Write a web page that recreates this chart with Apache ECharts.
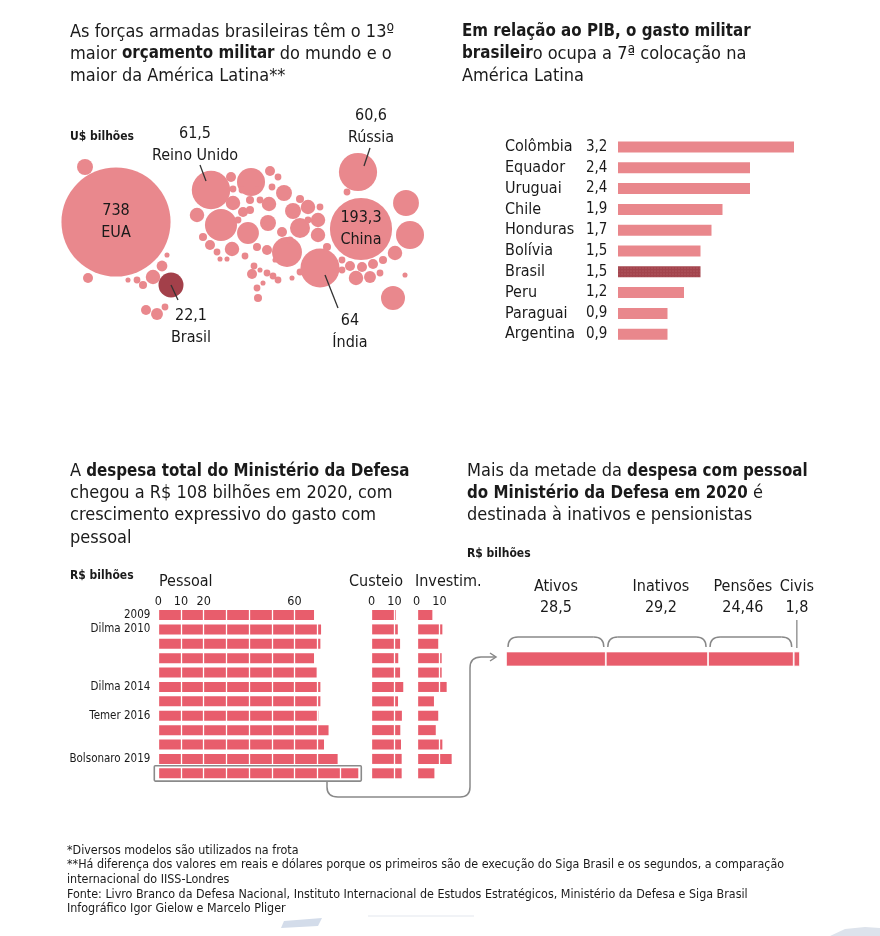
<!DOCTYPE html>
<html><head><meta charset="utf-8">
<script src="https://cdn.jsdelivr.net/npm/echarts@6/dist/echarts.min.js"></script>
<style>html,body{margin:0;padding:0;background:#fff}#c{width:880px;height:936px}</style>
</head><body><div id="c"></div>
<script>
const FONT = "'Liberation Sans Narrow','DejaVu Sans Condensed','Noto Sans',sans-serif";
const INK = '#1a1a1a';

// ---- Bubble chart: labelled countries (US$ billions), layout positions ----
const bubbleNames  = ['EUA', 'China', 'Índia', 'Reino Unido', 'Rússia', 'Brasil'];
const bubbleValues = [738, 193.3, 64, 61.5, 60.6, 22.1];
const bubbleX      = [56, 301, 260, 151, 298, 111];
const bubbleY      = [122, 129, 168, 90, 72, 185];
// other countries: [x, y, value]
const otherBubbles = [
  [25,67,7.6],[28,178,2.5],[102,166,3],[93,177,6],[83,185,1.5],[77,180,1],[107,155,0.5],
  [86,210,2.5],[97,214,3.8],[105,207,1],[68,180,0.5],
  [137,115,6],[161,125,40],[143,137,1.5],[150,145,2.5],[157,152,1],[172,149,6],[188,133,16],
  [191,82,29],[171,77,2.5],[173,89,1],[210,71,2.5],[218,77,1],[224,93,7.6],[173,103,6],
  [183,112,2.5],[190,100,1.5],[200,100,1],[209,104,6],[208,123,7.6],[233,111,7.6],[248,107,6],
  [240,99,1.5],[260,107,1],[258,120,6],[240,128,13],[258,135,6],[227,152,34],[207,150,2.5],
  [222,132,2.5],[197,147,1.5],[185,156,1],[194,166,1],[200,170,0.5],[192,174,2.5],[207,173,1],
  [213,176,1],[218,180,1],[203,183,0.5],[197,188,1],[198,198,1.5],[240,172,1],
  [267,147,1.5],[282,160,1],[290,166,2.5],[302,167,2.5],[313,164,2.5],[323,160,1.5],[282,170,1],
  [296,178,6],[310,177,3.8],[320,173,1],[335,153,6],[346,103,24],[350,135,29],[333,198,20],
  [287,92,1],[197,90,1],[182,90,1],[212,87,1],[190,110,1.5],[345,175,0.5],[160,159,0.5],
  [167,159,0.5],[178,120,1],[230,140,1],[248,120,1],[232,178,0.5],[215,160,0.5]
];
// label offsets for the labelled bubbles (text placement)
const bubbleLabelOffset = [[0,0],[0,0],[30,64],[-16,-45],[13,-45],[20,42]];

// ---- Military spending as % of GDP ----
const pibCountries = ['Colômbia','Equador','Uruguai','Chile','Honduras','Bolívia','Brasil','Peru','Paraguai','Argentina'];
const pibValues    = [3.2, 2.4, 2.4, 1.9, 1.7, 1.5, 1.5, 1.2, 0.9, 0.9];

// ---- Ministry of Defence spending (R$ billions) ----
const years      = ['2009','2010','2011','2012','2013','2014','2015','2016','2017','2018','2019','2020'];
const yearLabels = ['2009','Dilma 2010','','','','Dilma 2014','','Temer 2016','','','Bolsonaro 2019',''];
const pessoal    = [68.6, 71.7, 71.4, 68.6, 69.8, 71.4, 71.4, 70.5, 75.0, 73.0, 79.0, 88.1];
const custeio    = [10.6, 11.5, 12.5, 11.7, 12.5, 13.9, 11.6, 13.3, 12.6, 12.9, 13.2, 13.2];
const investim   = [6.9, 11.3, 9.5, 11.0, 11.0, 13.2, 7.6, 9.5, 8.4, 11.3, 15.4, 7.8];
const pessoalTicks  = [0, 10, 20, 60];
const custeioTicks  = [0, 10];
const investimTicks = [0, 10];

// ---- Personnel spending 2020 breakdown (R$ billions) ----
const partNames  = ['Ativos', 'Inativos', 'Pensões', 'Civis'];
const partValues = [28.5, 29.2, 24.46, 1.8];
const partLabelOffset = [[0,0],[4,0],[-8,0],[0,0]];

const fmt = v => String(v).replace('.', ',');
const BUB = '#e9888d', BAR_TOP = '#e9878c', BAR = '#e85d6c';
const brasilDecal = {symbol:'circle', symbolSize:0.5, color:'rgba(255,210,210,0.35)', dashArrayX:[[2,1]], dashArrayY:[2,1]};

const chart = echarts.init(document.getElementById('c'), null, {renderer:'canvas'});

function T(x, y, text, o) {
  o = o || {};
  return {type:'text', x:x, y:y, silent:true, style: Object.assign({
    text:text, fill:INK, fontFamily:FONT, fontSize:o.size||16, fontWeight:o.weight||'normal',
    font: (o.weight||'normal') + ' ' + (o.size||16) + 'px ' + FONT,
    align:o.align||'left', textAlign:o.align||'left',
    verticalAlign:o.va||'middle', textVerticalAlign:o.va||'middle',
    lineHeight:o.lh, rich:o.rich
  }, o.style||{})};
}
function para(x, y, text, size, bsize, lh) {
  const r = {fontFamily:FONT, fontSize:size, lineHeight:lh, fill:INK, color:INK};
  return T(x, y, text, {size:size, va:'top', lh:lh, rich:{
    r: Object.assign({}, r), b: Object.assign({}, r, {fontWeight:'bold', fontSize:bsize})
  }});
}
function L(x1, y1, x2, y2, c, w) {
  return {type:'line', silent:true, z:10, shape:{x1:x1, y1:y1, x2:x2, y2:y2}, style:{stroke:c||'#888', lineWidth:w||1.5}};
}
function Q(x1, y1, cx, cy, x2, y2, c, w) {
  return {type:'bezierCurve', silent:true, z:10, shape:{x1:x1, y1:y1, cpx1:cx, cpy1:cy, x2:x2, y2:y2},
    style:{stroke:c||'#888', lineWidth:w||1.5, fill:null}};
}

const catAxisBase = {type:'category', inverse:true, axisLine:{show:false}, axisTick:{show:false}};
function valTop(gi, max, ticks, showSplit) {
  return {type:'value', gridIndex:gi, position:'top', min:0, max:max, interval:10, z:5,
    axisLine:{show:false}, axisTick:{show:false},
    axisLabel:{show:!!ticks, margin:0, fontFamily:FONT, fontSize:12.5, color:INK,
      formatter: v => (ticks && ticks.indexOf(v) >= 0) ? String(v) : ''},
    splitLine:{show:showSplit, lineStyle:{color:'#fff', width:1.3}}};
}

const option = {
  animation:false,
  backgroundColor:'#fff',
  grid:[
    {left:60, top:100, width:370, height:260},
    {left:618, top:136.6, width:220, height:208},
    {left:158.3, top:607.8, width:204.3, height:172.7},
    {left:371.7, top:607.8, width:45.4, height:172.7},
    {left:416.7, top:607.8, width:45.4, height:172.7},
    {left:506, top:651.5, width:294, height:15}
  ],
  xAxis:[
    {type:'value', gridIndex:0, min:0, max:370, show:false},
    {type:'value', gridIndex:1, min:0, max:4, show:false},
    valTop(2, 90, pessoalTicks, true),
    valTop(3, 20, custeioTicks, true),
    valTop(4, 20, investimTicks, true),
    {type:'value', gridIndex:5, min:0, max:partValues.reduce((a,b)=>a+b,0), show:false}
  ],
  yAxis:[
    {type:'value', gridIndex:0, min:0, max:260, inverse:true, show:false},
    Object.assign({}, catAxisBase, {gridIndex:1, data:pibCountries,
      axisLabel:{interval:0, align:'left', margin:113, fontFamily:FONT, fontSize:16, color:INK,
        formatter:(v,i) => '{n|' + v + '}{v|' + fmt(pibValues[i]) + '}',
        rich:{n:{width:81, fontFamily:FONT, fontSize:16, color:INK}, v:{fontFamily:FONT, fontSize:15, color:INK}}}}),
    Object.assign({}, catAxisBase, {gridIndex:2, data:years,
      axisLabel:{interval:0, margin:8, fontFamily:FONT, fontSize:11.5, color:INK, formatter:(v,i) => yearLabels[i]}}),
    Object.assign({}, catAxisBase, {gridIndex:3, data:years, axisLabel:{show:false}}),
    Object.assign({}, catAxisBase, {gridIndex:4, data:years, axisLabel:{show:false}}),
    Object.assign({}, catAxisBase, {gridIndex:5, data:['2020'], axisLabel:{show:false}})
  ],
  series:[
    {type:'scatter', xAxisIndex:0, yAxisIndex:0, silent:true,
      data: otherBubbles,
      symbolSize: v => 2 * 12.5 * Math.pow(v[2] / 22.1, 0.42),
      itemStyle:{color:BUB, opacity:1}},
    {type:'scatter', xAxisIndex:0, yAxisIndex:0, silent:true,
      data: bubbleNames.map((n,i) => ({name:n, value:[bubbleX[i], bubbleY[i], bubbleValues[i]],
        itemStyle: n === 'Brasil' ? {color:'#a3404a', decal:brasilDecal} : undefined,
        label:{offset:bubbleLabelOffset[i]}})),
      symbolSize: v => 2 * 12.5 * Math.pow(v[2] / 22.1, 0.42),
      itemStyle:{color:BUB, opacity:1},
      label:{show:true, position:'inside', fontFamily:FONT, fontSize:16, lineHeight:22, color:INK,
        formatter: p => fmt(p.value[2]) + '\n' + p.name}},
    {type:'bar', xAxisIndex:1, yAxisIndex:1, barWidth:11, silent:true,
      data: pibValues.map((v,i) => pibCountries[i] === 'Brasil'
        ? {value:v, itemStyle:{color:'#a3444d', decal:brasilDecal}} : v),
      itemStyle:{color:BAR_TOP}},
    {type:'bar', xAxisIndex:2, yAxisIndex:2, barWidth:10, silent:true, data:pessoal, itemStyle:{color:BAR}},
    {type:'bar', xAxisIndex:3, yAxisIndex:3, barWidth:10, silent:true, data:custeio, itemStyle:{color:BAR}},
    {type:'bar', xAxisIndex:4, yAxisIndex:4, barWidth:10, silent:true, data:investim, itemStyle:{color:BAR}}
  ].concat(partNames.map((n,i) => ({
    type:'bar', xAxisIndex:5, yAxisIndex:5, stack:'p', barWidth:15, silent:true, name:n,
    data:[partValues[i]], itemStyle:{color:BAR, borderColor:'#fff', borderWidth:0.8},
    label:{show:true, position:'top', distance:33, offset:partLabelOffset[i],
      formatter: '{n|' + n + '}\n{v|' + fmt(partValues[i]) + '}',
      rich:{n:{fontFamily:FONT, fontSize:16, lineHeight:21, color:INK, align:'center'},
            v:{fontFamily:FONT, fontSize:16, lineHeight:21, color:INK, align:'center'}}}
  })))
};
chart.setOption(option);

// ---- Annotations (text, leader lines, braces, connector) ----
const G = [];
G.push(para(70, 21, '{r|As forças armadas brasileiras têm o 13º}\n{r|maior }{b|orçamento militar}{r| do mundo e o}\n{r|maior da América Latina**}', 18, 16.8, 22));
G.push(para(462, 21, '{b|Em relação ao PIB, o gasto militar}\n{b|brasileir}{r|o ocupa a 7ª colocação na}\n{r|América Latina}', 18, 16.8, 22));
G.push(para(70, 460, '{r|A }{b|despesa total do Ministério da Defesa}\n{r|chegou a R$ 108 bilhões em 2020, com}\n{r|crescimento expressivo do gasto com}\n{r|pessoal}', 18, 16.8, 22.3));
G.push(para(467, 460, '{r|Mais da metade da }{b|despesa com pessoal}\n{b|do Ministério da Defesa em 2020}{r| é}\n{r|destinada à inativos e pensionistas}', 18, 16.8, 22.3));

G.push(T(70, 137, 'U$ bilhões', {size:12, weight:'bold'}));
G.push(T(70, 576, 'R$ bilhões', {size:12, weight:'bold'}));
G.push(T(467, 554, 'R$ bilhões', {size:12, weight:'bold'}));
G.push(T(159, 582, 'Pessoal', {size:16}));
G.push(T(349, 582, 'Custeio', {size:16}));
G.push(T(415, 582, 'Investim.', {size:16}));

// leader lines relative to bubble centers
const leader = {'Reino Unido':[[-11,-25],[-5,-9]], 'Rússia':[[12,-24],[6,-6]], 'Índia':[[5,7],[18,40]], 'Brasil':[[0,0],[7,15]]};
bubbleNames.forEach((n,i) => {
  if (!leader[n]) return;
  const c = chart.convertToPixel({gridIndex:0}, [bubbleX[i], bubbleY[i]]);
  const a = leader[n][0], b = leader[n][1];
  G.push(L(c[0]+a[0], c[1]+a[1], c[0]+b[0], c[1]+b[1], '#333', 1.3));
});

// braces above the breakdown bar
let acc = 0;
partValues.forEach((v,i) => {
  const p0 = chart.convertToPixel({gridIndex:5}, [acc, '2020']);
  const p1 = chart.convertToPixel({gridIndex:5}, [acc + v, '2020']);
  acc += v;
  if (i < 3) {
    const x0 = p0[0] + 2, x1 = p1[0] - 2;
    G.push(Q(x0, 647, x0, 637, x0 + 10, 637));
    G.push(L(x0 + 10, 637, x1 - 10, 637));
    G.push(Q(x1 - 10, 637, x1, 637, x1, 647));
  } else {
    const xm = (p0[0] + p1[0]) / 2;
    G.push(L(xm, 620, xm, 648, '#888', 1.3));
  }
});

// box around 2020 personnel bar and connector arrow
const pEnd = chart.convertToPixel({gridIndex:2}, [pessoal[11], '2020']);
G.push({type:'rect', silent:true, z:10, shape:{x:154.3, y:pEnd[1]-7.6, width:pEnd[0]+3-154.3, height:15.4, r:1},
  style:{stroke:'#8a8a8a', lineWidth:1.6, fill:null}});
G.push(L(327, 782, 327, 787));
G.push(Q(327, 787, 327, 797, 338, 797));
G.push(L(338, 797, 460, 797));
G.push(Q(460, 797, 470, 797, 470, 787));
G.push(L(470, 787, 470, 668));
G.push(Q(470, 668, 470, 657, 481, 657));
G.push(L(481, 657, 495, 657));
G.push({type:'polyline', silent:true, z:10, shape:{points:[[490,653],[496,657],[490,661]]}, style:{stroke:'#888', lineWidth:1.5, fill:null}});

// footer
G.push(T(67, 843, '*Diversos modelos são utilizados na frota\n**Há diferença dos valores em reais e dólares porque os primeiros são de execução do Siga Brasil e os segundos, a comparação\ninternacional do IISS-Londres\nFonte: Livro Branco da Defesa Nacional, Instituto Internacional de Estudos Estratégicos, Ministério da Defesa e Siga Brasil\nInfográfico Igor Gielow e Marcelo Pliger',
  {size:12.4, va:'top', lh:14.7}));
// faint scan artefacts at the bottom
G.push({type:'polygon', silent:true, shape:{points:[[284,921],[322,918],[318,926],[281,928]]}, style:{fill:'#d3dcea'}});
G.push(L(368, 916, 474, 916, '#e3e7ee', 1));
G.push({type:'polygon', silent:true, shape:{points:[[830,936],[845,929],[865,927],[880,928],[880,936]]}, style:{fill:'#dde3ec'}});

chart.setOption({graphic:{elements:G}});
</script></body></html>
